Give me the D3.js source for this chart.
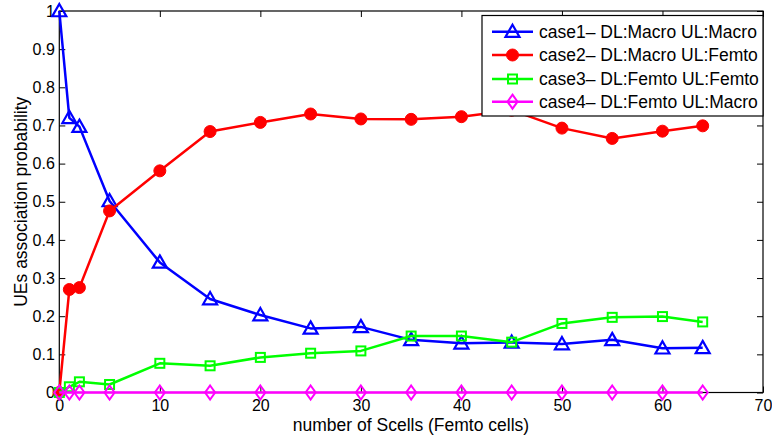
<!DOCTYPE html>
<html>
<head>
<meta charset="utf-8">
<script src="https://cdn.jsdelivr.net/npm/d3@7"></script>
<style>
  body { margin: 0; background: #fff; }
  svg { display: block; font-family: "Liberation Sans", Arial, Helvetica, sans-serif; }
</style>
</head>
<body>
<svg id="chart" width="772" height="436"></svg>
<script>
// Number of small cells deployed
const scells = [0, 1, 2, 5, 10, 15, 20, 25, 30, 35, 40, 45, 50, 55, 60, 64];

// Association probability per case
const case1 = [1.0, 0.72, 0.697, 0.502, 0.341, 0.245, 0.203, 0.168, 0.172, 0.138, 0.129, 0.131, 0.127, 0.138, 0.116, 0.117];
const case2 = [0.0, 0.27, 0.275, 0.476, 0.581, 0.684, 0.708, 0.73, 0.717, 0.716, 0.723, 0.74, 0.693, 0.666, 0.685, 0.699];
const case3 = [0.0, 0.015, 0.028, 0.021, 0.0765, 0.07, 0.092, 0.103, 0.109, 0.148, 0.148, 0.132, 0.181, 0.197, 0.199, 0.185];
const case4 = [0, 0, 0, 0, 0, 0, 0, 0, 0, 0, 0, 0, 0, 0, 0, 0];

const seriesNames = [
  "case1\u2013 DL:Macro UL:Macro",
  "case2\u2013 DL:Macro UL:Femto",
  "case3\u2013 DL:Femto UL:Femto",
  "case4\u2013 DL:Femto UL:Macro"
];
const seriesColors = ["#0000ff", "#ff0000", "#00ff00", "#ff00ff"];
const seriesMarkers = ["triangle", "circle", "square", "diamond"];
const seriesValues = [case1, case2, case3, case4];

const xTicks = [0, 10, 20, 30, 40, 50, 60, 70];
const yTicks = [0, 0.1, 0.2, 0.3, 0.4, 0.5, 0.6, 0.7, 0.8, 0.9, 1];

const xLabel = "number of Scells (Femto cells)";
const yLabel = "UEs association probability";

const svg = d3.select("#chart");
const plotLeft = 59.3, plotRight = 763, plotTop = 11, plotBottom = 392.5;

const x = d3.scaleLinear().domain([0, 70]).range([plotLeft, plotRight]);
const y = d3.scaleLinear().domain([0, 1]).range([plotBottom, plotTop]);

const tickLen = 6;
const tickFont = 16;
const labelFont = 17.5;

// Axes with inward ticks on all four sides
const gx = svg.append("g").attr("transform", `translate(0,${plotBottom})`)
  .call(d3.axisBottom(x).tickValues(xTicks).tickSizeInner(-tickLen).tickSizeOuter(0).tickPadding(7).tickFormat(d3.format("d")));
const gxTop = svg.append("g").attr("transform", `translate(0,${plotTop})`)
  .call(d3.axisTop(x).tickValues(xTicks).tickSizeInner(-tickLen).tickSizeOuter(0).tickFormat(""));
const gy = svg.append("g").attr("transform", `translate(${plotLeft},0)`)
  .call(d3.axisLeft(y).tickValues(yTicks).tickSizeInner(-tickLen).tickSizeOuter(0).tickPadding(4.5).tickFormat(d => String(+d.toFixed(1))));
const gyRight = svg.append("g").attr("transform", `translate(${plotRight},0)`)
  .call(d3.axisRight(y).tickValues(yTicks).tickSizeInner(-tickLen).tickSizeOuter(0).tickFormat(""));

[gx, gxTop, gy, gyRight].forEach(g => {
  g.select(".domain").remove();
  g.selectAll(".tick line").attr("stroke", "#000").attr("stroke-width", 1);
  g.selectAll(".tick text").attr("fill", "#000").style("font-size", tickFont + "px");
});

// Plot box
svg.append("rect")
  .attr("x", plotLeft).attr("y", plotTop)
  .attr("width", plotRight - plotLeft).attr("height", plotBottom - plotTop)
  .attr("fill", "none").attr("stroke", "#000").attr("stroke-width", 1.2);

// Axis titles
svg.append("text")
  .attr("x", 411).attr("y", 430.5)
  .attr("text-anchor", "middle").style("font-size", labelFont + "px")
  .text(xLabel);
svg.append("text")
  .attr("transform", `translate(27,${(plotTop + plotBottom) / 2}) rotate(-90)`)
  .attr("text-anchor", "middle").style("font-size", labelFont + "px")
  .text(yLabel);

function drawMarker(g, type, color, cx, cy) {
  if (type === "triangle") {
    const s = 7;
    g.append("path")
      .attr("d", `M${cx},${cy - s} L${cx + s},${cy + s * 0.75} L${cx - s},${cy + s * 0.75} Z`)
      .attr("fill", "none").attr("stroke", color).attr("stroke-width", 2.2);
  } else if (type === "circle") {
    g.append("circle").attr("cx", cx).attr("cy", cy).attr("r", 6)
      .attr("fill", color).attr("stroke", color).attr("stroke-width", 1);
  } else if (type === "square") {
    g.append("rect").attr("x", cx - 4.5).attr("y", cy - 4.5).attr("width", 9).attr("height", 9)
      .attr("fill", "none").attr("stroke", color).attr("stroke-width", 2);
  } else if (type === "diamond") {
    g.append("path")
      .attr("d", `M${cx},${cy - 7} L${cx + 5},${cy} L${cx},${cy + 7} L${cx - 5},${cy} Z`)
      .attr("fill", "none").attr("stroke", color).attr("stroke-width", 2);
  }
}

const line = d3.line().x(d => x(d[0])).y(d => y(d[1]));

seriesValues.forEach((vals, i) => {
  const pts = scells.map((s, j) => [s, vals[j]]);
  const g = svg.append("g");
  g.append("path").datum(pts).attr("d", line)
    .attr("fill", "none").attr("stroke", seriesColors[i]).attr("stroke-width", 2.5)
    .attr("stroke-linejoin", "round");
  pts.forEach(p => drawMarker(g, seriesMarkers[i], seriesColors[i], x(p[0]), y(p[1])));
});

// Legend
const lg = svg.append("g");
lg.append("rect").attr("x", 482).attr("y", 15.5).attr("width", 281).attr("height", 100.5)
  .attr("fill", "#fff").attr("stroke", "#000").attr("stroke-width", 1.2);
const rowY = [31.7, 55, 79, 101.7];
seriesNames.forEach((name, i) => {
  const ry = rowY[i];
  lg.append("line").attr("x1", 492).attr("x2", 533).attr("y1", ry).attr("y2", ry)
    .attr("stroke", seriesColors[i]).attr("stroke-width", 2.5);
  drawMarker(lg, seriesMarkers[i], seriesColors[i], 512.5, ry);
  lg.append("text").attr("x", 539).attr("y", ry + 6.3)
    .style("font-size", labelFont + "px").text(name);
});
</script>
</body>
</html>
